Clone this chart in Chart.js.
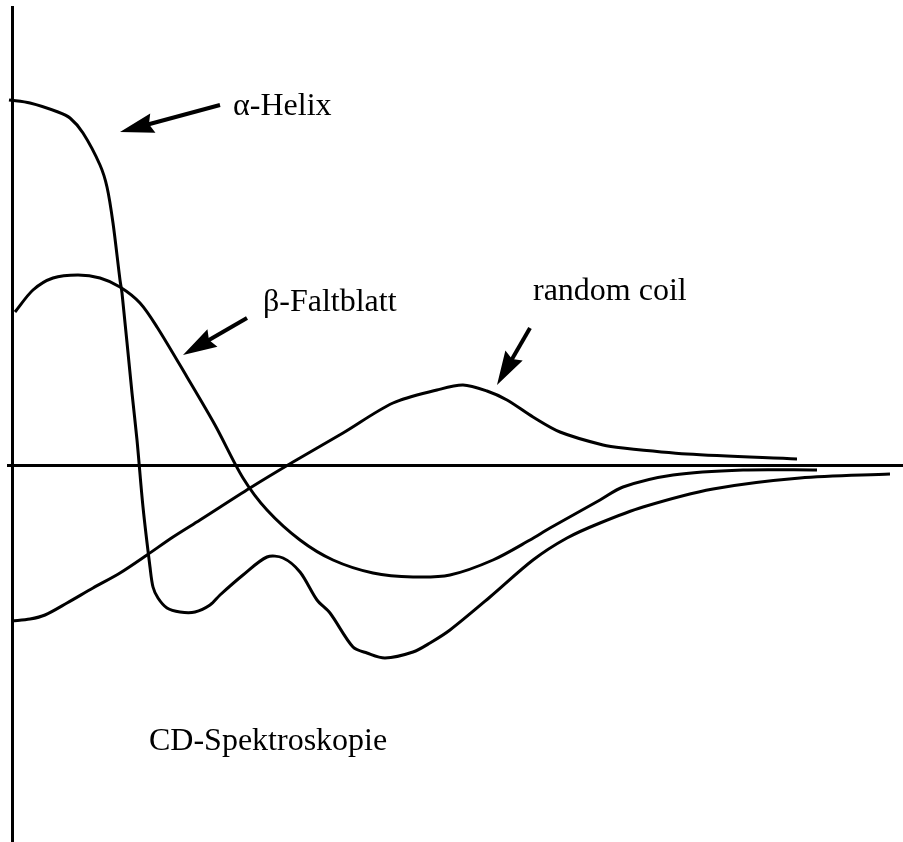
<!DOCTYPE html>
<html>
<head>
<meta charset="utf-8">
<title>CD-Spektroskopie</title>
<script src="https://cdn.jsdelivr.net/npm/chart.js@4.4.1/dist/chart.umd.min.js"></script>
<style>
    body { margin: 0; background: #fff; }
    #cdChart { display: block; }
</style>
</head>
<body>
<canvas id="cdChart" width="903" height="842"></canvas>
<script>
// curve values (arbitrary units, 0 = the two axes)
const helixX = [-3, 18, 46, 58, 71, 88, 95, 101, 108, 110, 120, 125, 131, 138, 141, 146, 155, 168, 183, 198, 208, 231, 255, 271, 288, 305, 318, 341, 355, 373, 401, 418, 438, 478, 521, 555, 588, 631, 701, 788, 878];
const helixY = [365, 362, 353, 347, 332, 300, 278, 242, 185, 172, 72, 25, -42, -102, -122, -133, -143, -147, -147, -140, -130, -110, -92, -93, -107, -135, -148, -182, -188, -193, -187, -178, -165, -132, -95, -73, -58, -42, -24, -13, -9];

const sheetX = [3, 21, 41, 66, 88, 108, 128, 145, 175, 203, 231, 255, 288, 321, 361, 401, 438, 481, 518, 538, 588, 611, 661, 731, 805];
const sheetY = [153, 175, 187, 190, 187, 178, 162, 138, 88, 40, -13, -45, -75, -95, -108, -112, -110, -95, -75, -63, -35, -22, -10, -5, -5];

const coilX = [0, 18, 33, 55, 81, 108, 135, 161, 188, 238, 281, 331, 381, 425, 451, 475, 495, 521, 548, 591, 611, 675, 785];
const coilY = [-156, -154, -150, -138, -123, -108, -90, -72, -55, -23, 3, 32, 62, 75, 80, 74, 65, 48, 33, 20, 17, 11, 6];

// labels + arrows (text anchor = left/baseline, arrow from tail to tip)
const labelTexts = ['α-Helix', 'β-Faltblatt', 'random coil', 'CD-Spektroskopie'];
const labelX = [221, 251, 521, 137];
const labelY = [350, 154, 165, -285];
const arrowTail = [[208, 360], [235, 147], [518, 137]];
const arrowTip = [[108, 333], [171, 110], [485, 80]];

function toPoints(xs, ys) {
    return xs.map((x, i) => ({ x: x, y: ys[i] }));
}

function curve(label, xs, ys) {
    return {
        label: label,
        data: toPoints(xs, ys),
        showLine: true,
        borderColor: '#000',
        borderWidth: 3,
        pointRadius: 0,
        tension: 0.3,
        fill: false
    };
}

// draws the texts and the arrows, positions go through the scales
const annotations = {
    id: 'annotations',
    afterDatasetsDraw(chart) {
        const ctx = chart.ctx;
        const xs = chart.scales.x;
        const ys = chart.scales.y;
        ctx.save();
        ctx.fillStyle = '#000';
        ctx.strokeStyle = '#000';
        ctx.font = '32px "Liberation Serif", "Times New Roman", serif';
        ctx.textAlign = 'left';
        ctx.textBaseline = 'alphabetic';
        labelTexts.forEach((t, i) => {
            ctx.fillText(t, xs.getPixelForValue(labelX[i]), ys.getPixelForValue(labelY[i]));
        });

        arrowTail.forEach((tail, i) => {
            const x1 = xs.getPixelForValue(tail[0]), y1 = ys.getPixelForValue(tail[1]);
            const x2 = xs.getPixelForValue(arrowTip[i][0]), y2 = ys.getPixelForValue(arrowTip[i][1]);
            const ang = Math.atan2(y2 - y1, x2 - x1);
            const headLen = 34, headW = 10;
            const bx = x2 - headLen * Math.cos(ang), by = y2 - headLen * Math.sin(ang);
            // shaft
            ctx.lineWidth = 4;
            ctx.beginPath();
            ctx.moveTo(x1, y1);
            ctx.lineTo(bx + 10 * Math.cos(ang), by + 10 * Math.sin(ang));
            ctx.stroke();
            // head, back edge only slightly notched
            ctx.beginPath();
            ctx.moveTo(x2, y2);
            ctx.lineTo(bx - headW * Math.sin(ang), by + headW * Math.cos(ang));
            ctx.lineTo(bx + 4 * Math.cos(ang), by + 4 * Math.sin(ang));
            ctx.lineTo(bx + headW * Math.sin(ang), by - headW * Math.cos(ang));
            ctx.closePath();
            ctx.fill();
        });
        ctx.restore();
    }
};

const ctx = document.getElementById('cdChart').getContext('2d');
new Chart(ctx, {
    type: 'scatter',
    data: {
        datasets: [
            curve('alpha-Helix', helixX, helixY),
            curve('beta-Faltblatt', sheetX, sheetY),
            curve('random coil', coilX, coilY)
        ]
    },
    options: {
        responsive: false,
        animation: false,
        layout: { padding: { left: 8, top: 7, right: 0, bottom: 0 } },
        plugins: {
            legend: { display: false },
            tooltip: { enabled: false }
        },
        scales: {
            x: {
                type: 'linear',
                min: -4,
                max: 891,
                position: { y: 0 },
                grid: { display: false, drawTicks: false },
                ticks: { display: false },
                border: { display: true, color: '#000', width: 3 }
            },
            y: {
                type: 'linear',
                min: -377,
                max: 458,
                position: { x: 0 },
                grid: { display: false, drawTicks: false },
                ticks: { display: false },
                border: { display: true, color: '#000', width: 3 }
            }
        }
    },
    plugins: [annotations]
});
</script>
</body>
</html>
